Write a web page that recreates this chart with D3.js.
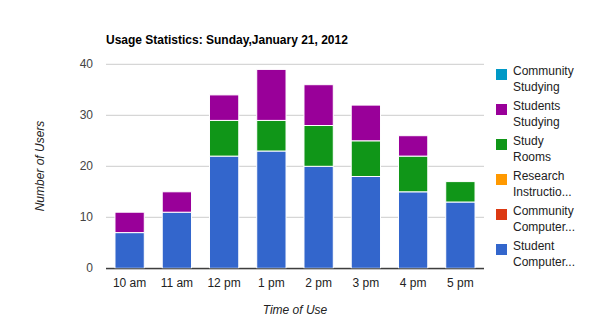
<!DOCTYPE html>
<html><head><meta charset="utf-8">
<script src="https://cdn.jsdelivr.net/npm/d3@7"></script>
<style>body{margin:0;background:#fff}svg{display:block;font-family:Arial,"Liberation Sans",sans-serif}</style>
</head><body><svg id="c" width="590" height="332"></svg>
<script>
const categories = ["10 am","11 am","12 pm","1 pm","2 pm","3 pm","4 pm","5 pm"];
const seriesNames = ["Student Computer...","Community Computer...","Research Instructio...","Study Rooms","Students Studying","Community Studying"];
const legendLabels = [["Community","Studying"],["Students","Studying"],["Study","Rooms"],["Research","Instructio..."],["Community","Computer..."],["Student","Computer..."]];
const colors = ["#3366cc","#dc3912","#ff9900","#109618","#990099","#0099c6"];
const studentComputer = [7,11,22,23,20,18,15,13];
const communityComputer = [0,0,0,0,0,0,0,0];
const researchInstruction = [0,0,0,0,0,0,0,0];
const studyRooms = [0,0,7,6,8,7,7,4];
const studentsStudying = [4,4,5,10,8,7,4,0];
const communityStudying = [0,0,0,0,0,0,0,0];
const yTicks = [0,10,20,30,40];

const seriesVals = [studentComputer,communityComputer,researchInstruction,studyRooms,studentsStudying,communityStudying];
const rows = categories.map((c,i)=>{const o={cat:c};seriesNames.forEach((s,j)=>o[s]=seriesVals[j][i]);return o;});
const stacked = d3.stack().keys(seriesNames)(rows);

const svg = d3.select("#c");
const L=106,R=484,T=64.3,B=268.3;
const x = d3.scaleBand().domain(categories).range([L,R]).paddingInner(0.38).paddingOuter(0.19);
const y = d3.scaleLinear().domain([0,40]).range([B,T]);

svg.append("g").selectAll("line").data(yTicks).join("line")
  .attr("x1",L).attr("x2",R).attr("y1",d=>y(d)).attr("y2",d=>y(d))
  .attr("stroke",d=>d===0?"#333":"#ccc").attr("stroke-width",1);
svg.append("g").selectAll("text").data(yTicks).join("text")
  .attr("x",93).attr("y",d=>y(d)+4).attr("text-anchor","end")
  .attr("font-size",12).attr("fill","#444").text(d=>d);

stacked.forEach((s,j)=>{
  svg.append("g").attr("fill",colors[j]).selectAll("rect").data(s).join("rect")
    .filter(d=>d[1]-d[0]>0)
    .attr("x",d=>x(d.data.cat)).attr("width",x.bandwidth())
    .attr("y",d=>y(d[1])).attr("height",d=>y(d[0])-y(d[1]))
    .attr("stroke","#fff").attr("stroke-width",1);
});
svg.append("line").attr("x1",L).attr("x2",R).attr("y1",y(0)+0.5).attr("y2",y(0)+0.5).attr("stroke","#333");

svg.append("g").selectAll("text").data(categories).join("text")
  .attr("x",d=>x(d)+x.bandwidth()/2).attr("y",287).attr("text-anchor","middle")
  .attr("font-size",12).attr("fill","#222").text(d=>d);

svg.append("text").attr("x",106).attr("y",44).attr("font-size",12).attr("font-weight","bold")
  .attr("fill","#000").text("Usage Statistics: Sunday,January 21, 2012");
svg.append("text").attr("x",295).attr("y",314).attr("text-anchor","middle")
  .attr("font-size",12).attr("font-style","italic").attr("fill","#222").text("Time of Use");
svg.append("text").attr("transform","translate(44,166) rotate(-90)").attr("text-anchor","middle")
  .attr("font-size",12).attr("font-style","italic").attr("fill","#222").text("Number of Users");

const legColors = colors.slice().reverse();
const lg = svg.append("g").selectAll("g").data(legendLabels).join("g")
  .attr("transform",(d,i)=>`translate(496,${69+i*35})`);
lg.append("rect").attr("width",11).attr("height",11).attr("fill",(d,i)=>legColors[i]);
lg.append("text").attr("x",17).attr("y",0).attr("font-size",12).attr("fill","#222")
  .selectAll("tspan").data(d=>d).join("tspan").attr("x",17).attr("dy",(d,i)=>i===0?6:15.5).text(d=>d);
</script></body></html>
